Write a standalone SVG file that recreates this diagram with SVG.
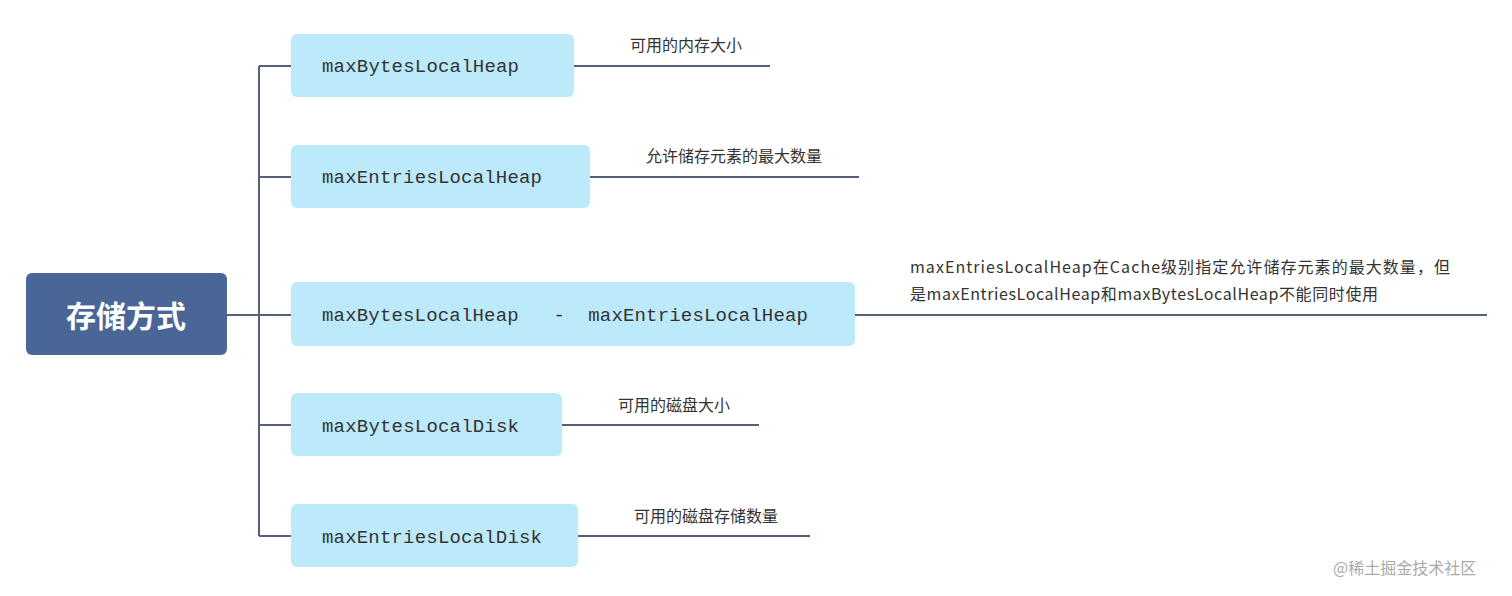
<svg xmlns="http://www.w3.org/2000/svg" width="1512" height="596" viewBox="0 0 1512 596">
<style>
.n{fill:#bdeafa}
.t{font-family:"Liberation Mono","Noto Sans CJK SC",monospace;font-size:19px;fill:#333}
.l{font-family:"Noto Sans CJK SC",sans-serif;font-size:16px;fill:#333}
.c{stroke:#56607a;stroke-width:2;fill:none}
</style>
<rect width="1512" height="596" fill="#fff"/>
<g id="connectors">
<path class="c" d="M259 66V536M227 315H291M259 66H291M259 177H291M259 425H291M259 536H291M574 66H770M590 177H859M855 315H1487M562 425H759M578 536H810"/>
</g>
<g id="root"><rect x="26" y="273" width="201" height="82" rx="6" fill="#4a6696"/><text x="126" y="327" text-anchor="middle" font-family="Noto Sans CJK SC,sans-serif" font-size="30" font-weight="bold" fill="#fff">存储方式</text></g>
<g id="n1"><rect class="n" x="291" y="34" width="283" height="63" rx="6"/><text class="t" x="322" y="72" textLength="197">maxBytesLocalHeap</text><text class="l" x="630" y="51">可用的内存大小</text></g>
<g id="n2"><rect class="n" x="291" y="145" width="299" height="63" rx="6"/><text class="t" x="322" y="183" textLength="220">maxEntriesLocalHeap</text><text class="l" x="646" y="162">允许储存元素的最大数量</text></g>
<g id="n3"><rect class="n" x="291" y="282" width="564" height="64" rx="6"/><text class="t" x="322" y="321" xml:space="preserve" textLength="486">maxBytesLocalHeap   -  maxEntriesLocalHeap</text><text class="l" x="910" y="273" textLength="540">maxEntriesLocalHeap在Cache级别指定允许储存元素的最大数量，但</text><text class="l" x="910" y="300" textLength="468">是maxEntriesLocalHeap和maxBytesLocalHeap不能同时使用</text></g>
<g id="n4"><rect class="n" x="291" y="393" width="271" height="63" rx="6"/><text class="t" x="322" y="432" textLength="197">maxBytesLocalDisk</text><text class="l" x="618" y="411">可用的磁盘大小</text></g>
<g id="n5"><rect class="n" x="291" y="504" width="287" height="63" rx="6"/><text class="t" x="322" y="543" textLength="220">maxEntriesLocalDisk</text><text class="l" x="634" y="522">可用的磁盘存储数量</text></g>
<text x="1333" y="574" font-family="Noto Sans CJK SC,sans-serif" font-size="16" fill="#aaa">@稀土掘金技术社区</text>
</svg>
